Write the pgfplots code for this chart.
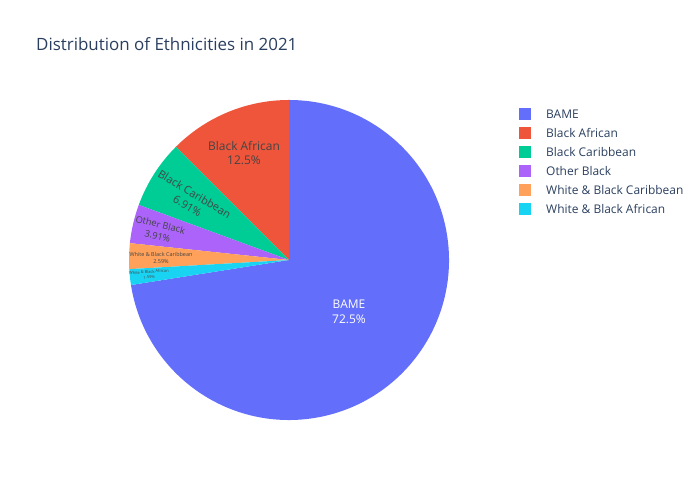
\documentclass[border=0pt]{standalone}
\usepackage{pgfplots}
\usepackage{pgfplotstable}
\pgfplotsset{compat=1.18}
\usepackage{fontspec}
\setmainfont{Open Sans}

\definecolor{cBAME}{HTML}{636EFA}
\definecolor{cBAfr}{HTML}{EF553B}
\definecolor{cBCar}{HTML}{00CC96}
\definecolor{cOBlk}{HTML}{AB63FA}
\definecolor{cWBC}{HTML}{FFA15A}
\definecolor{cWBA}{HTML}{19D3F3}
\definecolor{titlecol}{HTML}{2A3F5F}
\definecolor{lblcol}{HTML}{444444}

% share of each group, in percent
\pgfplotstableread[col sep=comma]{
label,pct,col
BAME,72.5,cBAME
Black African,12.5,cBAfr
Black Caribbean,6.91,cBCar
Other Black,3.91,cOBlk
White \& Black Caribbean,2.59,cWBC
White \& Black African,1.59,cWBA
}\ethdata

\begin{document}
\begin{tikzpicture}
\begin{axis}[
  width=700bp, height=500bp, scale only axis,
  xmin=0, xmax=700, ymin=0, ymax=500,
  enlargelimits=false, hide axis, clip=false,
]
\pgfplotsextra{%
  \path (axis cs:0,0) rectangle (axis cs:700,500);
  \pgfplotstablegetrowsof{\ethdata}%
  \pgfmathtruncatemacro\lastrow{\pgfplotsretval-1}%
  \pgfplotstablegetelem{0}{pct}\of\ethdata
  \pgfmathsetmacro\startang{90-3.6*\pgfplotsretval}%
  \xdef\cum{0}%
  \foreach \i in {0,...,\lastrow}{%
    \pgfplotstablegetelem{\i}{pct}\of\ethdata \let\pv\pgfplotsretval
    \pgfplotstablegetelem{\i}{col}\of\ethdata \let\slicecol\pgfplotsretval
    \pgfplotstablegetelem{\i}{label}\of\ethdata \let\lbl\pgfplotsretval
    \pgfmathsetmacro\a{\startang+3.6*\cum}%
    \pgfmathsetmacro\b{\a+3.6*\pv}%
    \fill[\slicecol] (axis cs:289,240) -- ++(\a:160bp)
      arc[start angle=\a, end angle=\b, radius=160bp] -- cycle;
    % legend entry
    \pgfmathsetmacro\ly{386-19*\i}%
    \fill[\slicecol] (axis cs:519,\ly-6) rectangle (axis cs:531,\ly+6);
    \node[anchor=base west, inner sep=0, text=titlecol,
      font=\fontsize{12}{14}\selectfont] at (axis cs:546,\ly-4.3) {\lbl};
    \pgfmathsetmacro\newcum{\cum+\pv}%
    \xdef\cum{\newcum}%
  }%
}
\node[anchor=base west, inner sep=0, text=titlecol,
  font=\fontsize{17}{20}\selectfont] at (axis cs:36,449)
  {Distribution of Ethnicities in 2021};
% labels inside the slices
\node[align=center, inner sep=0, text=white, font=\fontsize{12}{15}\selectfont]
  at (axis cs:349,188) {BAME\\72.5\%};
\node[align=center, inner sep=0, text=lblcol, font=\fontsize{12}{15}\selectfont]
  at (axis cs:244,347) {Black African\\12.5\%};
\node[align=center, inner sep=0, text=lblcol, rotate=-31,
  font=\fontsize{11}{14}\selectfont]
  at (axis cs:191,300) {Black Caribbean\\6.91\%};
\node[align=center, inner sep=0, text=lblcol, rotate=-14,
  font=\fontsize{9.3}{11.8}\selectfont]
  at (axis cs:159,269.5) {Other Black\\3.91\%};
\node[align=center, inner sep=0, text=lblcol,
  font=\fontsize{5.5}{7}\selectfont]
  at (axis cs:161,242.5) {White \& Black Caribbean\\2.59\%};
\node[align=center, inner sep=0, text=lblcol, rotate=4,
  font=\fontsize{4}{5.5}\selectfont]
  at (axis cs:149,225.5) {White \& Black African\\1.59\%};
\end{axis}
\end{tikzpicture}
\end{document}
